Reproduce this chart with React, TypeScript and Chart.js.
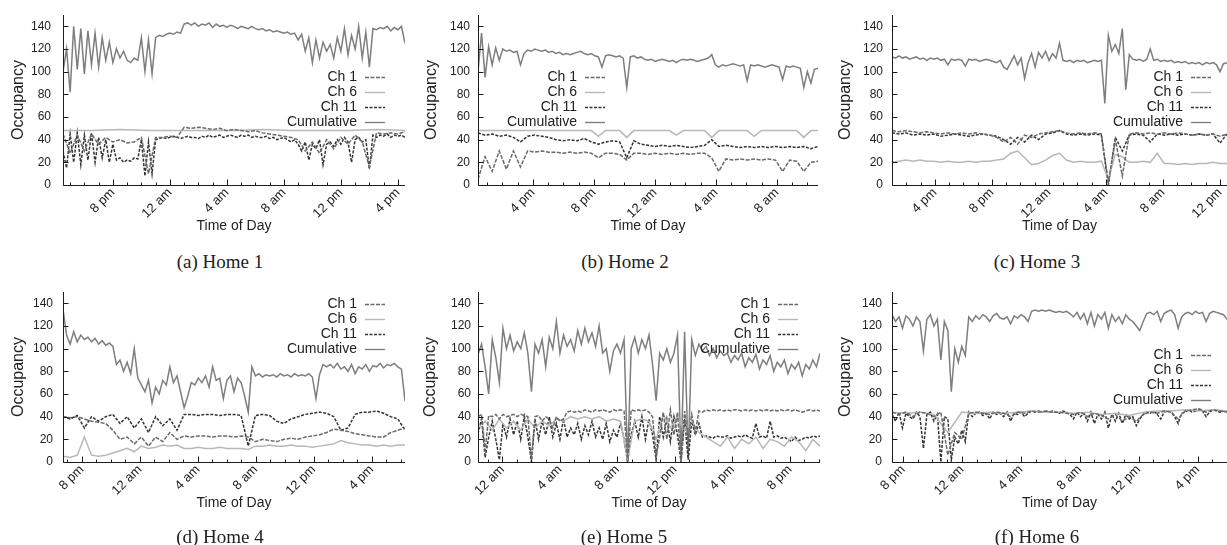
import React, { useEffect, useRef } from "react";
import { Chart, registerables } from "chart.js";

Chart.register(...registerables);

const FONT = "'Liberation Sans', Arial, Helvetica, sans-serif";
const SERIF = "'Liberation Serif', 'Times New Roman', Times, serif";

// ---------- shared ----------
const seriesNames = ["Ch 1", "Ch 6", "Ch 11", "Cumulative"];
const seriesColors = ["#6a6a6a", "#b8b8b8", "#333333", "#7e7e7e"];
const seriesDashes: number[][] = [[4, 1.5], [], [3, 1.5], []];
const yTicks = [0, 20, 40, 60, 80, 100, 120, 140];
const yMax = 150;

// ---------- Home 1 ----------
const home1Hours = [16.5, 40.5];
const home1Ticks = [20, 24, 28, 32, 36, 40];
const home1TickLabels = ["8 pm", "12 am", "4 am", "8 am", "12 pm", "4 pm"];
const home1Cumulative = [100,120,82,140,102,138,98,136,106,134, 104,130,110,126,108,120,112,118,110,108, 112,110,130,100,128,98,130,132,131,133, 134,133,135,134,142,143,141,143,140,142, 141,143,139,142,140,141,139,141,140,138, 140,139,138,140,138,137,138,136,137,135, 136,135,134,135,133,134,128,133,118,130, 108,128,112,126,118,124,112,130,118,138, 115,132,120,140,112,135,104,138,137,139, 138,140,136,139,137,140,125];
const home1Ch1 = [45,28,44,30,45,36,42,38,40,37, 38,42,10,42,42,43,42,51,50,51, 50,49,50,48,49,48,47,48,46,45, 44,43,42,40,30,38,28,40,32,42, 36,44,38,16,46,45,46,45,47];
const home1Ch6 = [48,48,49,48,48,48,48,49,48,48,48,49,48];
const home1Ch11 = [30,15,45,20,46,18,44,22,46,20, 42,24,40,20,36,22,24,20,22,21, 24,23,40,8,38,10,40,41,42,41, 42,43,42,41,42,43,42,42,41,43, 42,44,42,43,44,42,43,44,43,42, 44,43,44,42,43,42,42,43,41,42, 40,41,42,40,38,40,36,30,38,22, 36,32,40,18,36,38,34,40,36,42, 38,20,40,42,38,40,14,44,42,44, 43,45,42,44,43,44,42];

// ---------- Home 2 ----------
const home2Hours = [12.4, 34.7];
const home2Ticks = [16, 20, 24, 28, 32];
const home2TickLabels = ["4 pm", "8 pm", "12 am", "4 am", "8 am"];
const home2Cumulative = [100,134,95,122,106,121,110,120,118,119, 117,118,106,116,119,118,120,119,118,119, 117,118,116,117,115,116,115,116,117,118, 116,115,116,114,113,104,114,115,114,113, 114,112,86,113,114,112,113,111,110,111, 109,110,111,110,109,110,108,110,111,110, 111,110,109,110,111,112,115,106,104,106, 105,106,107,106,105,106,92,106,105,106, 105,104,105,106,105,104,93,105,104,105, 104,103,86,100,90,102,103];
const home2Ch1 = [5,25,12,30,14,30,16,30,29,30, 29,29,28,29,28,29,28,24,28,28, 27,22,28,28,27,28,27,28,27,28, 27,28,28,24,12,23,22,23,22,23, 22,23,22,12,22,21,12,20,21];
const home2Ch6 = [48,48,48,48,48,48,48,48,48,48, 48,48,48,48,48,48,48,43,48,48, 48,42,48,48,48,48,48,48,44,48, 48,48,48,42,48,48,48,48,48,43, 48,48,48,48,48,48,42,48,48];
const home2Ch11 = [46,44,45,43,44,42,38,43,44,43, 42,40,39,40,39,41,38,36,38,39, 38,24,39,36,35,34,35,34,35,34, 33,34,35,40,34,35,34,33,34,33, 34,33,34,33,34,33,34,32,34];

// ---------- Home 3 ----------
const home3Hours = [13, 36.5];
const home3Ticks = [16, 20, 24, 28, 32, 36];
const home3TickLabels = ["4 pm", "8 pm", "12 am", "4 am", "8 am", "12 pm"];
const home3Cumulative = [113,112,114,112,113,111,112,113,111,112, 110,112,111,112,110,111,106,111,110,111, 110,105,111,110,111,109,110,111,110,109, 108,110,104,102,108,114,106,112,94,108, 116,104,117,112,118,110,116,112,125,110, 109,110,108,110,109,110,108,109,110,109, 110,72,132,118,124,116,138,84,115,111, 110,111,109,111,120,110,111,109,110,109, 110,108,109,108,109,107,108,107,108,106, 108,107,108,106,100,107,108];
const home3Ch1 = [48,47,48,47,46,47,46,45,46,45, 46,45,46,45,44,42,38,42,36,44, 42,45,46,47,48,46,45,46,45,46, 45,2,40,8,45,46,45,46,45,46, 45,46,45,44,45,44,45,43,45];
const home3Ch6 = [20,21,22,21,22,21,21,20,21,20, 20,21,20,21,21,22,23,28,30,24, 18,19,22,26,28,22,20,21,20,20, 21,5,27,25,20,20,21,20,28,19, 19,18,19,18,19,19,20,19,19];
const home3Ch11 = [46,45,46,44,45,44,45,43,44,45, 44,43,44,45,44,43,40,36,42,38, 44,40,45,46,48,45,44,45,44,45, 44,0,42,30,44,45,44,38,45,44, 45,44,45,44,45,44,45,37,45];

// ---------- Home 4 ----------
const home4Hours = [18.7, 42.3];
const home4Ticks = [20, 24, 28, 32, 36, 40];
const home4TickLabels = ["8 pm", "12 am", "4 am", "8 am", "12 pm", "4 pm"];
const home4Cumulative = [135,112,104,115,106,112,108,110,106,109, 104,107,103,105,102,86,90,80,88,78, 100,74,68,62,72,52,66,60,72,68, 84,70,76,62,48,58,70,68,74,70, 76,66,84,72,74,56,72,76,62,74, 70,58,44,84,76,78,75,77,76,77, 75,78,76,77,75,78,76,77,76,78, 75,56,77,86,84,86,83,87,82,84, 80,86,78,84,82,86,80,85,84,87, 83,86,85,87,84,82,54];
const home4Ch1 = [40,39,40,38,36,35,34,28,20,22, 16,22,14,22,18,26,20,23,22,23, 23,22,23,23,22,23,22,18,20,19, 18,20,21,20,22,23,24,26,29,28, 27,25,24,23,22,22,26,28,30];
const home4Ch6 = [5,4,6,22,6,5,6,8,10,12, 9,14,12,13,15,14,15,12,12,13, 12,12,13,12,12,12,11,14,14,15, 14,14,15,14,14,13,14,15,16,19, 17,16,15,15,14,15,14,15,15];
const home4Ch11 = [40,38,41,30,40,36,40,42,34,40, 30,38,26,40,32,38,28,42,42,41, 42,42,41,42,42,41,14,41,42,41, 36,34,38,40,42,43,44,43,40,28, 30,42,44,44,45,43,40,38,28];

// ---------- Home 5 ----------
const home5Hours = [22.3, 46.1];
const home5Ticks = [24, 28, 32, 36, 40, 44];
const home5TickLabels = ["12 am", "4 am", "8 am", "12 pm", "4 pm", "8 pm"];
const home5Cumulative = [95,104,84,60,108,92,70,118,100,112, 98,106,100,114,96,62,104,96,108,84, 110,100,124,96,112,102,108,98,116,104, 118,106,114,102,120,96,100,80,98,104, 96,108,0,100,110,96,108,100,112,86, 54,96,90,100,88,96,112,2,115,4, 108,94,104,98,102,94,100,92,98,94, 96,88,94,90,96,84,92,88,95,82, 90,86,94,80,88,84,90,78,86,82, 88,76,86,82,90,84,96];
const home5Ch1 = [40,42,10,41,40,42,38,42,40,41, 42,40,42,41,40,2,40,41,36,40, 38,30,40,36,38,44,45,44,45,44, 46,45,44,46,45,46,45,44,46,45, 46,45,0,46,45,46,45,46,44,40, 5,22,44,20,46,24,44,0,45,20, 42,26,45,44,46,45,46,45,46,45, 46,45,46,46,45,46,45,46,45,46, 45,46,45,46,45,46,45,46,45,46, 45,44,45,46,45,46,45];
const home5Ch6 = [30,36,28,38,30,36,28,38,30,36, 32,38,36,40,38,40,38,40,36,38, 36,2,36,38,36,20,42,30,40,28, 36,26,22,18,14,22,12,20,16,22, 12,20,18,14,22,18,10,20,14];
const home5Ch11 = [25,38,4,22,36,20,2,34,22,38, 24,36,20,40,22,0,38,20,36,24, 40,22,34,20,38,22,30,24,34,20, 32,24,36,22,30,20,34,18,28,22, 34,20,0,24,36,22,40,20,38,24, 2,40,22,38,18,40,24,0,38,2, 36,24,34,22,23,22,21,23,22,22, 23,21,22,23,22,24,22,21,34,22, 23,21,36,22,23,21,22,20,18,22, 19,20,22,21,23,22,23];

// ---------- Home 6 ----------
const home6Hours = [19.25, 42];
const home6Ticks = [20, 24, 28, 32, 36, 40];
const home6TickLabels = ["8 pm", "12 am", "4 am", "8 am", "12 pm", "4 pm"];
const home6Cumulative = [130,124,128,118,129,126,120,128,124,98, 126,130,120,126,90,124,116,62,100,88, 102,94,128,124,129,126,130,128,124,129, 131,127,126,128,122,129,127,130,128,124, 133,134,133,134,133,134,133,132,133,132, 133,131,128,132,126,131,122,132,120,130, 126,132,118,130,124,128,122,130,126,124, 120,116,124,131,132,130,133,124,131,133, 134,130,118,128,131,132,130,133,131,132, 124,131,133,132,131,130,126];
const home6Ch1 = [44,42,44,40,44,43,40,44,6,26, 20,43,44,43,42,44,43,40,44,43, 45,44,45,44,44,43,42,44,40,43, 41,38,42,36,40,36,42,44,43,45, 44,38,45,46,47,44,46,45,44];
const home6Ch6 = [44,43,44,42,26,44,43,44,43,44, 45,44,44,43,44,42,43,41,44,45, 45,46,45,46,45];
const home6Ch11 = [42,36,44,30,43,40,38,44,40,12, 42,44,36,42,0,40,38,2,22,16, 28,18,44,40,43,44,41,43,38,44, 42,43,40,44,36,43,42,44,40,43, 45,44,45,44,45,44,45,44,43,45, 44,42,38,44,40,43,36,44,34,42, 38,44,30,42,36,43,34,42,38,40, 32,38,42,44,43,45,42,38,44,45, 44,40,34,43,44,46,44,45,46,45, 40,44,46,45,44,45,44];

// ---------- layout (positions / styles only) ----------
const CANVAS_H = 250;
const PLOT_TOP = 15;
const PLOT_BOTTOM = 185;
const XAXIS_H = 50;

type PanelDef = {
  key: string;
  caption: string;
  left: number;
  top: number;
  width: number;
  plotLeft: number;
  plotRight: number;
  hours: number[];
  xTicks: number[];
  xLabels: string[];
  series: number[][];
  legendX: number;
  legendY: number;
  yLabelPad: number;
  yTitlePad: number;
  captionX: number;
  captionY: number;
};

const panels: PanelDef[] = [
  { key: "a", caption: "(a) Home 1", left: 0, top: 0, width: 410, plotLeft: 63, plotRight: 405,
    hours: home1Hours, xTicks: home1Ticks, xLabels: home1TickLabels,
    series: [home1Ch1, home1Ch6, home1Ch11, home1Cumulative],
    legendX: 357, legendY: 77, yLabelPad: 12, yTitlePad: 9, captionX: 220, captionY: 262 },
  { key: "b", caption: "(b) Home 2", left: 410, top: 0, width: 410, plotLeft: 68, plotRight: 408,
    hours: home2Hours, xTicks: home2Ticks, xLabels: home2TickLabels,
    series: [home2Ch1, home2Ch6, home2Ch11, home2Cumulative],
    legendX: 167, legendY: 77, yLabelPad: 8, yTitlePad: 12, captionX: 625, captionY: 262 },
  { key: "c", caption: "(c) Home 3", left: 820, top: 0, width: 407, plotLeft: 72, plotRight: 407,
    hours: home3Hours, xTicks: home3Ticks, xLabels: home3TickLabels,
    series: [home3Ch1, home3Ch6, home3Ch11, home3Cumulative],
    legendX: 363, legendY: 77, yLabelPad: 9, yTitlePad: 16, captionX: 1037, captionY: 262 },
  { key: "d", caption: "(d) Home 4", left: 0, top: 277, width: 410, plotLeft: 63, plotRight: 405,
    hours: home4Hours, xTicks: home4Ticks, xLabels: home4TickLabels,
    series: [home4Ch1, home4Ch6, home4Ch11, home4Cumulative],
    legendX: 357, legendY: 27, yLabelPad: 10, yTitlePad: 9, captionX: 220, captionY: 537 },
  { key: "e", caption: "(e) Home 5", left: 410, top: 277, width: 410, plotLeft: 68, plotRight: 410,
    hours: home5Hours, xTicks: home5Ticks, xLabels: home5TickLabels,
    series: [home5Ch1, home5Ch6, home5Ch11, home5Cumulative],
    legendX: 360, legendY: 27, yLabelPad: 7, yTitlePad: 11, captionX: 624, captionY: 537 },
  { key: "f", caption: "(f) Home 6", left: 820, top: 277, width: 407, plotLeft: 72, plotRight: 407,
    hours: home6Hours, xTicks: home6Ticks, xLabels: home6TickLabels,
    series: [home6Ch1, home6Ch6, home6Ch11, home6Cumulative],
    legendX: 363, legendY: 78, yLabelPad: 10, yTitlePad: 16, captionX: 1037, captionY: 537 },
];

// gnuplot-like frame: left+bottom border, inward ticks, key
const gnuFrame = {
  id: "gnuFrame",
  afterDatasetsDraw(chart: any, _args: any, opts: any) {
    const { ctx, chartArea: a, scales } = chart;
    const xs = scales.x;
    const ys = scales.y;
    ctx.save();
    ctx.strokeStyle = "#1c1c1c";
    ctx.lineWidth = 1;
    ctx.setLineDash([]);
    ctx.beginPath();
    const lx = Math.round(a.left) + 0.5;
    const by = Math.round(a.bottom) + 0.5;
    ctx.moveTo(lx, a.top);
    ctx.lineTo(lx, by);
    ctx.lineTo(a.right, by);
    for (const v of opts.yTicks) {
      const py = Math.round(ys.getPixelForValue(v)) + 0.5;
      ctx.moveTo(lx, py);
      ctx.lineTo(lx + 5, py);
    }
    const [h0, h1] = opts.hours;
    for (let h = Math.ceil(h0); h <= h1; h++) {
      const px = Math.round(xs.getPixelForValue(h)) + 0.5;
      const len = opts.xTicks.includes(h) ? 6 : 3;
      ctx.moveTo(px, by);
      ctx.lineTo(px, by - len);
    }
    ctx.stroke();

    ctx.font = "14px " + FONT;
    ctx.textAlign = "right";
    ctx.textBaseline = "middle";
    chart.data.datasets.forEach((ds: any, i: number) => {
      const yy = opts.legendY + i * 15;
      ctx.fillStyle = "#222";
      ctx.fillText(ds.label, opts.legendX, yy);
      ctx.strokeStyle = ds.borderColor;
      ctx.lineWidth = 1.4;
      ctx.setLineDash(ds.borderDash || []);
      ctx.beginPath();
      ctx.moveTo(opts.legendX + 8, yy + 0.5);
      ctx.lineTo(opts.legendX + 28, yy + 0.5);
      ctx.stroke();
    });
    ctx.restore();
  },
};

function PanelChart({ p }: { p: PanelDef }) {
  const ref = useRef<HTMLCanvasElement | null>(null);
  useEffect(() => {
    const canvas = ref.current;
    if (!canvas) return;
    const [xMin, xMax] = p.hours;
    const datasets = p.series.map((vals, i) => ({
      label: seriesNames[i],
      data: vals.map((y, j) => ({ x: xMin + (j * (xMax - xMin)) / (vals.length - 1), y })),
      borderColor: seriesColors[i],
      borderWidth: 1.5,
      borderDash: seriesDashes[i],
      pointRadius: 0,
      tension: 0,
      fill: false,
    }));
    const chart = new Chart(canvas, {
      type: "line",
      data: { datasets },
      plugins: [gnuFrame],
      options: {
        animation: false,
        responsive: false,
        maintainAspectRatio: false,
        events: [],
        layout: {
          padding: {
            left: 0,
            top: PLOT_TOP,
            right: p.width - p.plotRight,
            bottom: CANVAS_H - PLOT_BOTTOM - XAXIS_H,
          },
        },
        plugins: {
          legend: { display: false },
          tooltip: { enabled: false },
          gnuFrame: {
            yTicks,
            hours: p.hours,
            xTicks: p.xTicks,
            legendX: p.legendX,
            legendY: p.legendY,
          },
        } as any,
        scales: {
          x: {
            type: "linear",
            min: xMin,
            max: xMax,
            grid: { display: false, drawTicks: false },
            border: { display: false },
            afterBuildTicks: (s: any) => {
              s.ticks = p.xTicks.map((v) => ({ value: v }));
            },
            afterFit: (s: any) => {
              s.height = XAXIS_H;
              s.paddingLeft = 0;
              s.paddingRight = 0;
            },
            ticks: {
              autoSkip: false,
              minRotation: 45,
              maxRotation: 45,
              padding: 0,
              color: "#222",
              font: { size: 13, family: FONT },
              callback: (_v: any, i: number) => p.xLabels[i],
            },
            title: {
              display: true,
              text: "Time of Day",
              color: "#222",
              font: { size: 14, family: FONT },
              padding: { top: 0, bottom: 0 },
            },
          },
          y: {
            type: "linear",
            min: 0,
            max: yMax,
            grid: { display: false, drawTicks: false },
            border: { display: false },
            afterBuildTicks: (s: any) => {
              s.ticks = yTicks.map((v) => ({ value: v }));
            },
            afterFit: (s: any) => {
              s.width = p.plotLeft;
              s.paddingTop = 0;
              s.paddingBottom = 0;
            },
            ticks: {
              padding: p.yLabelPad,
              color: "#222",
              font: { size: 12, family: FONT },
              callback: (v: any) => String(v),
            },
            title: {
              display: true,
              text: "Occupancy",
              color: "#222",
              font: { size: 16, family: FONT },
              padding: { top: p.yTitlePad, bottom: 0 },
            },
          },
        },
      } as any,
    });
    return () => chart.destroy();
  }, [p]);

  return (
    <div style={{ position: "absolute", left: p.left, top: p.top, width: p.width, height: CANVAS_H }}>
      <canvas ref={ref} width={p.width} height={CANVAS_H} style={{ display: "block", width: p.width, height: CANVAS_H }} />
    </div>
  );
}

export default function App() {
  return (
    <div style={{ position: "fixed", left: 0, top: 0, width: 1227, height: 545, background: "#fff", overflow: "hidden" }}>
      {panels.map((p) => (
        <PanelChart key={p.key} p={p} />
      ))}
      {panels.map((p) => (
        <div
          key={"cap" + p.key}
          style={{
            position: "absolute",
            left: p.captionX - 90,
            top: p.captionY - 12,
            width: 180,
            textAlign: "center",
            fontFamily: SERIF,
            fontSize: 19,
            lineHeight: "24px",
            color: "#222",
            whiteSpace: "nowrap",
          }}
        >
          {p.caption}
        </div>
      ))}
    </div>
  );
}
